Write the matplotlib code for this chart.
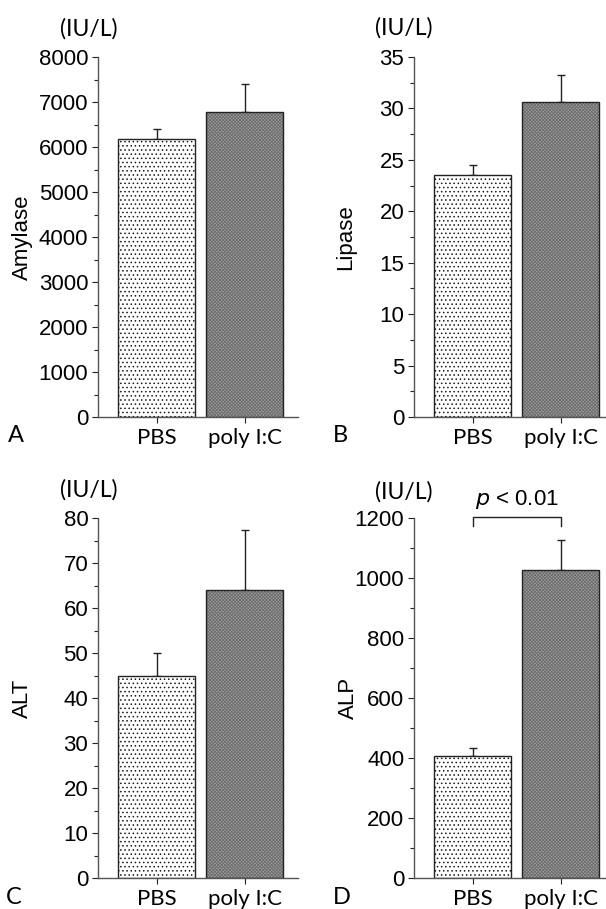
import numpy as np
import matplotlib
matplotlib.use("Agg")
import matplotlib.pyplot as plt

plt.rcParams['font.family'] = ['Liberation Sans', 'DejaVu Sans']
plt.rcParams['hatch.linewidth'] = 0.6

groups = ['PBS', 'poly I:C']

amylase = [6170, 6770]
amylase_err = [220, 620]
lipase = [23.5, 30.6]
lipase_err = [1.0, 2.65]
alt = [45.0, 64.0]
alt_err = [5.0, 13.3]
alp = [408, 1027]
alp_err = [25, 100]

panels = [
    # letter, ylabel, values, errors, ymax, step
    ('A', 'Amylase', amylase, amylase_err, 8000, 1000),
    ('B', 'Lipase', lipase, lipase_err, 35, 5),
    ('C', 'ALT', alt, alt_err, 80, 10),
    ('D', 'ALP', alp, alp_err, 1200, 200),
]

W, H = 606, 909
fig = plt.figure(figsize=(W / 100, H / 100), dpi=100)

# axes frames in pixels: left, top(y=max), bottom(y=0), right
frames = {
    'A': (98, 57, 417, 298),
    'B': (414, 57, 417, 606),
    'C': (98, 518, 878, 298),
    'D': (414, 518, 878, 606),
}
ylab_x = {'A': 22, 'B': 346, 'C': 22, 'D': 348}
letter_xy = {'A': (16, 436), 'B': (340, 436), 'C': (14, 898), 'D': (342, 898)}
unit_xy = {'A': (89, 29), 'B': (404, 28), 'C': (89, 490), 'D': (404, 492)}

dark = '#222222'
x = np.array([1, 2])

for letter, ylab, vals, errs, ymax, step in panels:
    l, t, b, r = frames[letter]
    ax = fig.add_axes([l / W, (H - b) / H, (r - l) / W, (b - t) / H])
    bars = ax.bar(x, vals, width=0.88, color=['white', '#a0a0a0'],
                  edgecolor=dark, linewidth=1.0, zorder=2)
    bars[0].set_hatch('....')
    bars[1].set_hatch('xxxxxxxxxx')
    bars[0]._hatch_color = (0.1, 0.1, 0.1, 1)
    bars[1]._hatch_color = (0.42, 0.42, 0.42, 1)
    ax.errorbar(x, vals, yerr=[np.zeros(2), errs], fmt='none', ecolor=dark,
                elinewidth=1.0, capsize=3, capthick=1.0, zorder=1)
    ax.set_ylim(0, ymax)
    ax.set_xlim(0.335, 0.335 + (r - l) / 88.0)
    ax.set_yticks(np.arange(0, ymax + step, step))
    ax.set_yticks(np.arange(step / 2, ymax, step), minor=True)
    ax.set_xticks(x)
    ax.set_xticklabels(groups, fontfamily='Lato', fontsize=16)
    ax.tick_params(axis='y', labelsize=16, length=4, width=0.8, color=dark, pad=3)
    ax.tick_params(axis='y', which='minor', length=3, width=0.8, color=dark)
    ax.tick_params(axis='x', length=4, width=0.8, color=dark, pad=4)
    for s in ['top', 'right']:
        ax.spines[s].set_visible(False)
    for s in ['left', 'bottom']:
        ax.spines[s].set_color('#555555')
        ax.spines[s].set_linewidth(1.0)

    fig.text(ylab_x[letter] / W, 1 - ((t + b) / 2) / H, ylab, rotation=90,
             ha='center', va='center', fontsize=16, fontfamily='Liberation Sans')
    lx, ly = letter_xy[letter]
    fig.text(lx / W, 1 - ly / H, letter, ha='center', va='center',
             fontsize=17, fontfamily='Lato')
    ux, uy = unit_xy[letter]
    fig.text(ux / W, 1 - uy / H, '(IU/L)', ha='center', va='center',
             fontsize=16.5, fontfamily='Lato')

    if letter == 'D':
        ax.plot([1, 1, 2, 2], [1173, 1205, 1205, 1173], color=dark,
                linewidth=1.0, clip_on=False)
        ax.text(1.5, 1262, r'$p$ < 0.01', ha='center', va='center',
                fontsize=16, fontfamily='Liberation Sans', clip_on=False)

fig.savefig('out.png', dpi=100)
